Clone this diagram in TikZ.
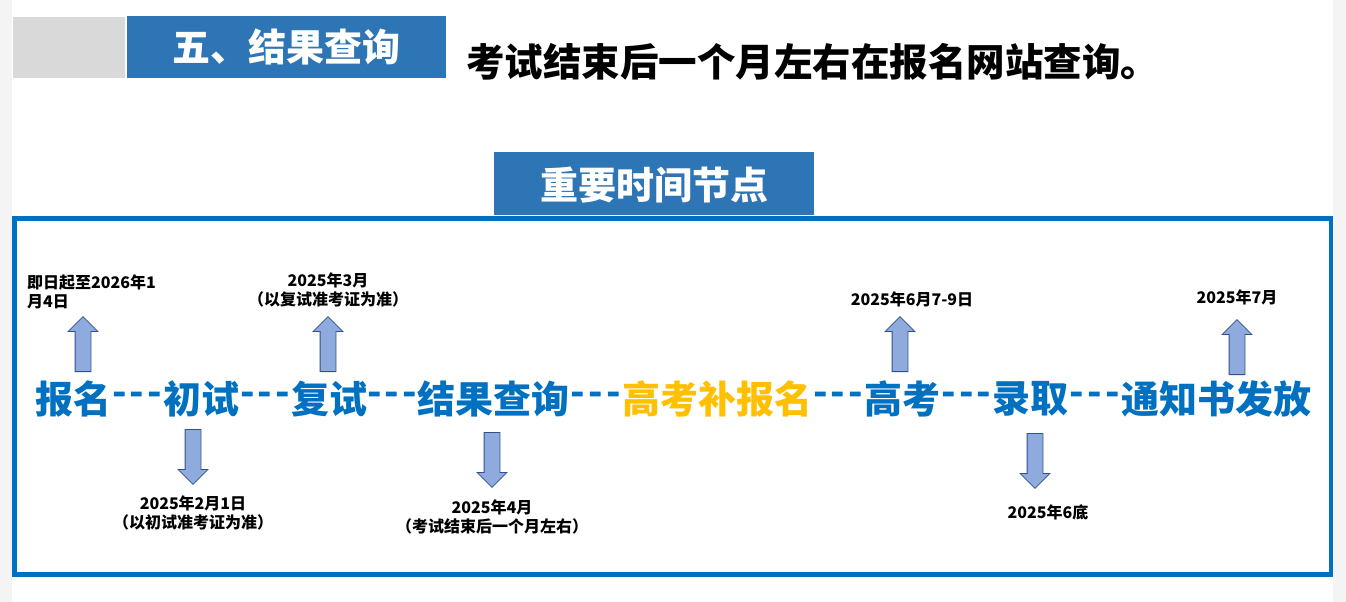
\documentclass[tikz,border=0pt]{standalone}
\usepackage{fontspec}
\setmainfont{Noto Sans CJK SC}
\usetikzlibrary{shapes.arrows,positioning,calc}
\definecolor{frameblue}{HTML}{0070C0}
\definecolor{headblue}{HTML}{2E75B6}
\definecolor{headgray}{HTML}{D9D9D9}
\definecolor{sidegray}{HTML}{F4F4F4}
\definecolor{gold}{HTML}{FFC000}
\definecolor{arrowfill}{HTML}{8FAADC}
\definecolor{arrowline}{HTML}{2F528F}
\newcommand{\dashes}{-\kern3pt-\kern3pt-}
\tikzset{
  stage/.style={inner sep=0pt,font=\fontsize{38}{40}\selectfont\bfseries,text=frameblue},
  sep/.style={stage},
  uparrow/.style={single arrow,draw=arrowline,fill=arrowfill,line width=0.8pt,
    minimum height=55pt,minimum width=29pt,single arrow head extend=7pt,
    inner sep=7.5pt,shape border rotate=90,anchor=tail},
  downarrow/.style={uparrow,shape border rotate=270},
  datelabel/.style={inner sep=0pt,align=center,font=\fontsize{16}{19}\selectfont\bfseries},
}

\begin{document}
\begin{tikzpicture}[x=1pt,y=-1pt]
    \useasboundingbox (0,0) rectangle (1346,602);
    \fill[white] (0,0) rectangle (1346,602);
    \fill[sidegray] (0,0) rectangle (12,602);
    \fill[sidegray] (1333,0) rectangle (1346,602);
    % header
    \fill[headgray] (13,17) rectangle (125,78);
    \fill[headblue] (127,16) rectangle (446,78);
    \node[text=white,font=\fontsize{38}{40}\selectfont\bfseries] (sec) at (286,47) {五、结果查询};
    \node[anchor=west,inner sep=0pt,font=\fontsize{38.5}{40}\selectfont\bfseries] (title) at (466,62) {考试结束后一个月左右在报名网站查询。};
    \fill[headblue] (494,152) rectangle (814,215);
    \node[text=white,font=\fontsize{38}{40}\selectfont\bfseries] (key) at (654,185) {重要时间节点};
    \draw[frameblue,line width=4.5pt] (14.5,218.5) rectangle (1331,574.5);
    % timeline
    \node[stage] (bm) at (73.5,399) {报名};
    \node[stage] (cs) at (201,399) {初试};
    \node[stage] (fs) at (329,399) {复试};
    \node[stage] (jg) at (493.5,399) {结果查询};
    \node[stage,text=gold] (bb) at (717,399) {高考补报名};
    \node[stage] (gk) at (902.5,399) {高考};
    \node[stage] (lq) at (1030.5,399) {录取};
    \node[stage] (tz) at (1216,399) {通知书发放};
    \foreach \a/\b in {bm/cs,cs/fs,fs/jg,jg/bb,bb/gk,gk/lq,lq/tz}
      \node[sep] at ($(\a.east)!0.5!(\b.west)$) {\dashes};
    % arrows and dates
    \node[uparrow] (abm) at (83,372) {};
    \node[downarrow] (acs) at (193,429) {};
    \node[uparrow] (afs) at (328,372) {};
    \node[downarrow] (ajg) at (492,432) {};
    \node[uparrow] (agk) at (900,372) {};
    \node[downarrow] (alq) at (1035,433) {};
    \node[uparrow] (atz) at (1237,375) {};
    \node[datelabel,align=left,anchor=south west] (tbm) at (27,309) {即日起至2026年1\\月4日};
    \node[datelabel,below=11pt of acs] (tcs) {2025年2月1日\\（以初试准考证为准）};
    \node[datelabel,above=9pt of afs] (tfs) {2025年3月\\（以复试准考证为准）};
    \node[datelabel,below=12pt of ajg] (tjg) {2025年4月\\（考试结束后一个月左右）};
    \node[datelabel,above=9pt of agk,xshift=12pt] (tgk) {2025年6月7-9日};
    \node[datelabel,below=16pt of alq,xshift=13pt] (tlq) {2025年6底};
    \node[datelabel,above=14pt of atz] (ttz) {2025年7月};
\end{tikzpicture}
\end{document}
